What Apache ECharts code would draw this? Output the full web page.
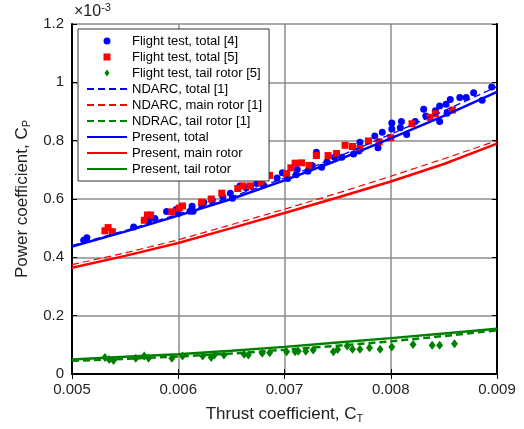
<!DOCTYPE html>
<html>
<head>
<meta charset="utf-8">
<script src="https://cdn.jsdelivr.net/npm/echarts@6/dist/echarts.min.js"></script>
<style>html,body{margin:0;padding:0;background:#fff}#c{width:524px;height:429px}</style>
</head>
<body>
<div id="c"></div>
<script>
// Tick labels
const xTicks = ['0.005', '0.006', '0.007', '0.008', '0.009'];
const yTicks = ['0', '0.2', '0.4', '0.6', '0.8', '1', '1.2'];

// Flight test, total [4]  (CT ×1e-3, CP ×1e-3)
const ft4CT = [5.11,5.14,5.58,5.72,5.78,5.89,5.98,6.00,6.11,6.13,6.14,6.22,6.24,6.32,6.42,6.49,6.51,6.58,6.64,6.74,6.80,6.93,6.98,7.03,7.11,7.12,7.22,7.26,7.30,7.30,7.35,7.40,7.47,7.54,7.65,7.71,7.70,7.85,7.88,7.92,8.01,8.01,8.09,8.10,8.15,8.23,8.31,8.33,8.42,8.46,8.46,8.52,8.53,8.56,8.65,8.71,8.78,8.86,8.95];
const ft4CP = [0.459,0.467,0.504,0.527,0.533,0.557,0.564,0.550,0.558,0.575,0.558,0.580,0.588,0.597,0.608,0.620,0.603,0.645,0.639,0.653,0.648,0.672,0.690,0.670,0.683,0.701,0.695,0.715,0.760,0.749,0.709,0.728,0.743,0.743,0.754,0.795,0.765,0.816,0.776,0.829,0.861,0.840,0.844,0.866,0.821,0.866,0.908,0.885,0.903,0.919,0.866,0.925,0.894,0.941,0.948,0.948,0.964,0.939,0.984];

// Flight test, total [5]
const ft5CT = [5.31,5.34,5.38,5.68,5.71,5.74,5.94,6.01,6.04,6.22,6.31,6.41,6.56,6.61,6.68,6.78,6.78,6.86,7.02,7.06,7.10,7.16,7.23,7.30,7.41,7.49,7.57,7.64,7.71,7.79,7.89,8.00,8.20,8.37,8.42,8.58];
const ft5CP = [0.491,0.502,0.488,0.527,0.545,0.545,0.556,0.569,0.576,0.589,0.600,0.620,0.636,0.645,0.645,0.676,0.657,0.681,0.687,0.707,0.723,0.724,0.715,0.749,0.749,0.756,0.784,0.780,0.773,0.799,0.796,0.810,0.858,0.880,0.892,0.905];

// Flight test, tail rotor [5]
const ftTailCT = [5.31,5.35,5.39,5.60,5.68,5.72,5.94,6.04,6.23,6.31,6.34,6.43,6.62,6.66,6.79,6.86,7.02,7.10,7.13,7.20,7.27,7.46,7.50,7.59,7.64,7.71,7.80,7.90,8.01,8.21,8.39,8.46,8.60];
const ftTailCP = [0.057,0.050,0.046,0.054,0.062,0.054,0.054,0.062,0.062,0.057,0.065,0.065,0.068,0.065,0.071,0.073,0.076,0.076,0.078,0.078,0.082,0.076,0.084,0.096,0.085,0.085,0.090,0.085,0.093,0.101,0.099,0.099,0.104];

// Model curves
const lineCT = [5.0,5.5,6.0,6.5,7.0,7.5,8.0,8.5,9.0];
const ndarcTotal = [0.440,0.492,0.548,0.607,0.672,0.744,0.822,0.902,0.985];
const ndarcMain  = [0.375,0.415,0.460,0.512,0.565,0.620,0.678,0.738,0.800];
const ndarcTail  = [0.045,0.052,0.060,0.070,0.083,0.097,0.112,0.130,0.150];
const presTotal  = [0.437,0.488,0.543,0.600,0.664,0.733,0.808,0.885,0.967];
const presMain   = [0.364,0.405,0.449,0.500,0.552,0.605,0.660,0.720,0.790];
const presTail   = [0.050,0.059,0.068,0.080,0.093,0.108,0.123,0.139,0.155];

const pts = (xs, ys) => xs.map((x, i) => [x / 1000, ys[i]]);

const BLUE = '#0000ff', RED = '#ff0000', GREEN = '#008000';
const FONT = '"Liberation Sans", Arial, sans-serif';

const chart = echarts.init(document.getElementById('c'), null, {renderer: 'canvas'});

const gridLine = {show: true, lineStyle: {color: '#8c8c8c', width: 1.5}};
const frameLine = {show: true, lineStyle: {color: '#000', width: 2}};
const tick = {show: true, inside: true, length: 5, lineStyle: {color: '#000', width: 1}};

function lineSeries(name, data, color, width, dashed) {
  return {
    name, type: 'line', data, symbol: 'none', z: 3,
    lineStyle: {color, width, type: dashed ? [7, 4] : 'solid'},
    itemStyle: {color},
    animation: false
  };
}

const legendNames = ['Flight test, total [4]', 'Flight test, total [5]', 'Flight test, tail rotor [5]',
  'NDARC, total [1]', 'NDARC, main rotor [1]', 'NDRAC, tail rotor [1]',
  'Present, total', 'Present, main rotor', 'Present, tail rotor'];
const legendIcons = ['circle', 'path://M0,0H1V1H0Z', 'path://M0,-5L3.6,0L0,5L-3.6,0Z'];

chart.setOption({
  animation: false,
  textStyle: {fontFamily: FONT},
  grid: {left: 72, right: 27, top: 24, bottom: 48},
  xAxis: [{
    type: 'value', min: 0.005, max: 0.009, interval: 0.001,
    axisLine: frameLine, axisTick: tick, splitLine: gridLine,
    axisLabel: {color: '#222', fontSize: 15, margin: 8, fontFamily: FONT,
      formatter: v => xTicks[Math.round((v - 0.005) / 0.001)]},
    name: 'Thrust coefficient, C{sub|T}', nameLocation: 'middle', nameGap: 30,
    nameTextStyle: {color: '#222', fontSize: 17, fontFamily: FONT,
      rich: {sub: {fontSize: 11, padding: [9, 0, 0, 0], fontFamily: FONT, color: '#222'}}}
  }, {
    type: 'value', position: 'top', min: 0.005, max: 0.009, interval: 0.001,
    axisLine: frameLine, axisTick: tick, splitLine: {show: false}, axisLabel: {show: false}
  }],
  yAxis: [{
    type: 'value', min: 0, max: 1.2, interval: 0.2,
    axisLine: frameLine, axisTick: tick, splitLine: gridLine,
    axisLabel: {color: '#222', fontSize: 15, margin: 8, fontFamily: FONT,
      formatter: v => yTicks[Math.round(v / 0.2)]},
    name: 'Power coefficient, C{sub|P}', nameLocation: 'middle', nameGap: 40,
    nameTextStyle: {color: '#222', fontSize: 17, fontFamily: FONT,
      rich: {sub: {fontSize: 11, padding: [9, 0, 0, 0], fontFamily: FONT, color: '#222'}}}
  }, {
    type: 'value', position: 'right', min: 0, max: 1.2, interval: 0.2,
    axisLine: frameLine, axisTick: tick, splitLine: {show: false}, axisLabel: {show: false}
  }],
  graphic: [{
    type: 'text', left: 74, top: 2, z: 10,
    style: {text: '×10{sup|-3}', font: '16px ' + FONT, fill: '#222',
      rich: {sup: {fontSize: 11, padding: [0, 0, 9, 0], fontFamily: FONT, fill: '#222'}}}
  }],
  legend: {
    left: 78, top: 29, orient: 'vertical',
    backgroundColor: '#fff', borderColor: '#333', borderWidth: 1,
    padding: [5, 7, 5, 8], itemWidth: 40, itemHeight: 7, itemGap: 2,
    symbolKeepAspect: true,
    textStyle: {fontSize: 13, lineHeight: 14, color: '#000', fontFamily: FONT},
    data: legendNames.map((n, i) => i < 3
      ? {name: n, icon: legendIcons[i]}
      : {name: n, itemStyle: {opacity: 0}})
  },
  series: [
    {name: legendNames[0], type: 'scatter', data: pts(ft4CT, ft4CP),
      symbol: 'circle', symbolSize: 7, itemStyle: {color: BLUE, opacity: 1}, z: 2},
    {name: legendNames[1], type: 'scatter', data: pts(ft5CT, ft5CP),
      symbol: 'rect', symbolSize: 7, itemStyle: {color: RED, opacity: 1}, z: 2},
    {name: legendNames[2], type: 'scatter', data: pts(ftTailCT, ftTailCP),
      symbol: 'diamond', symbolSize: [7, 9], itemStyle: {color: GREEN, opacity: 1}, z: 2},
    lineSeries(legendNames[3], pts(lineCT, ndarcTotal), BLUE, 1.3, true),
    lineSeries(legendNames[4], pts(lineCT, ndarcMain), RED, 1.2, true),
    lineSeries(legendNames[5], pts(lineCT, ndarcTail), GREEN, 2.5, true),
    lineSeries(legendNames[6], pts(lineCT, presTotal), BLUE, 2.5, false),
    lineSeries(legendNames[7], pts(lineCT, presMain), RED, 2.5, false),
    lineSeries(legendNames[8], pts(lineCT, presTail), GREEN, 2.5, false)
  ]
});
</script>
</body>
</html>
